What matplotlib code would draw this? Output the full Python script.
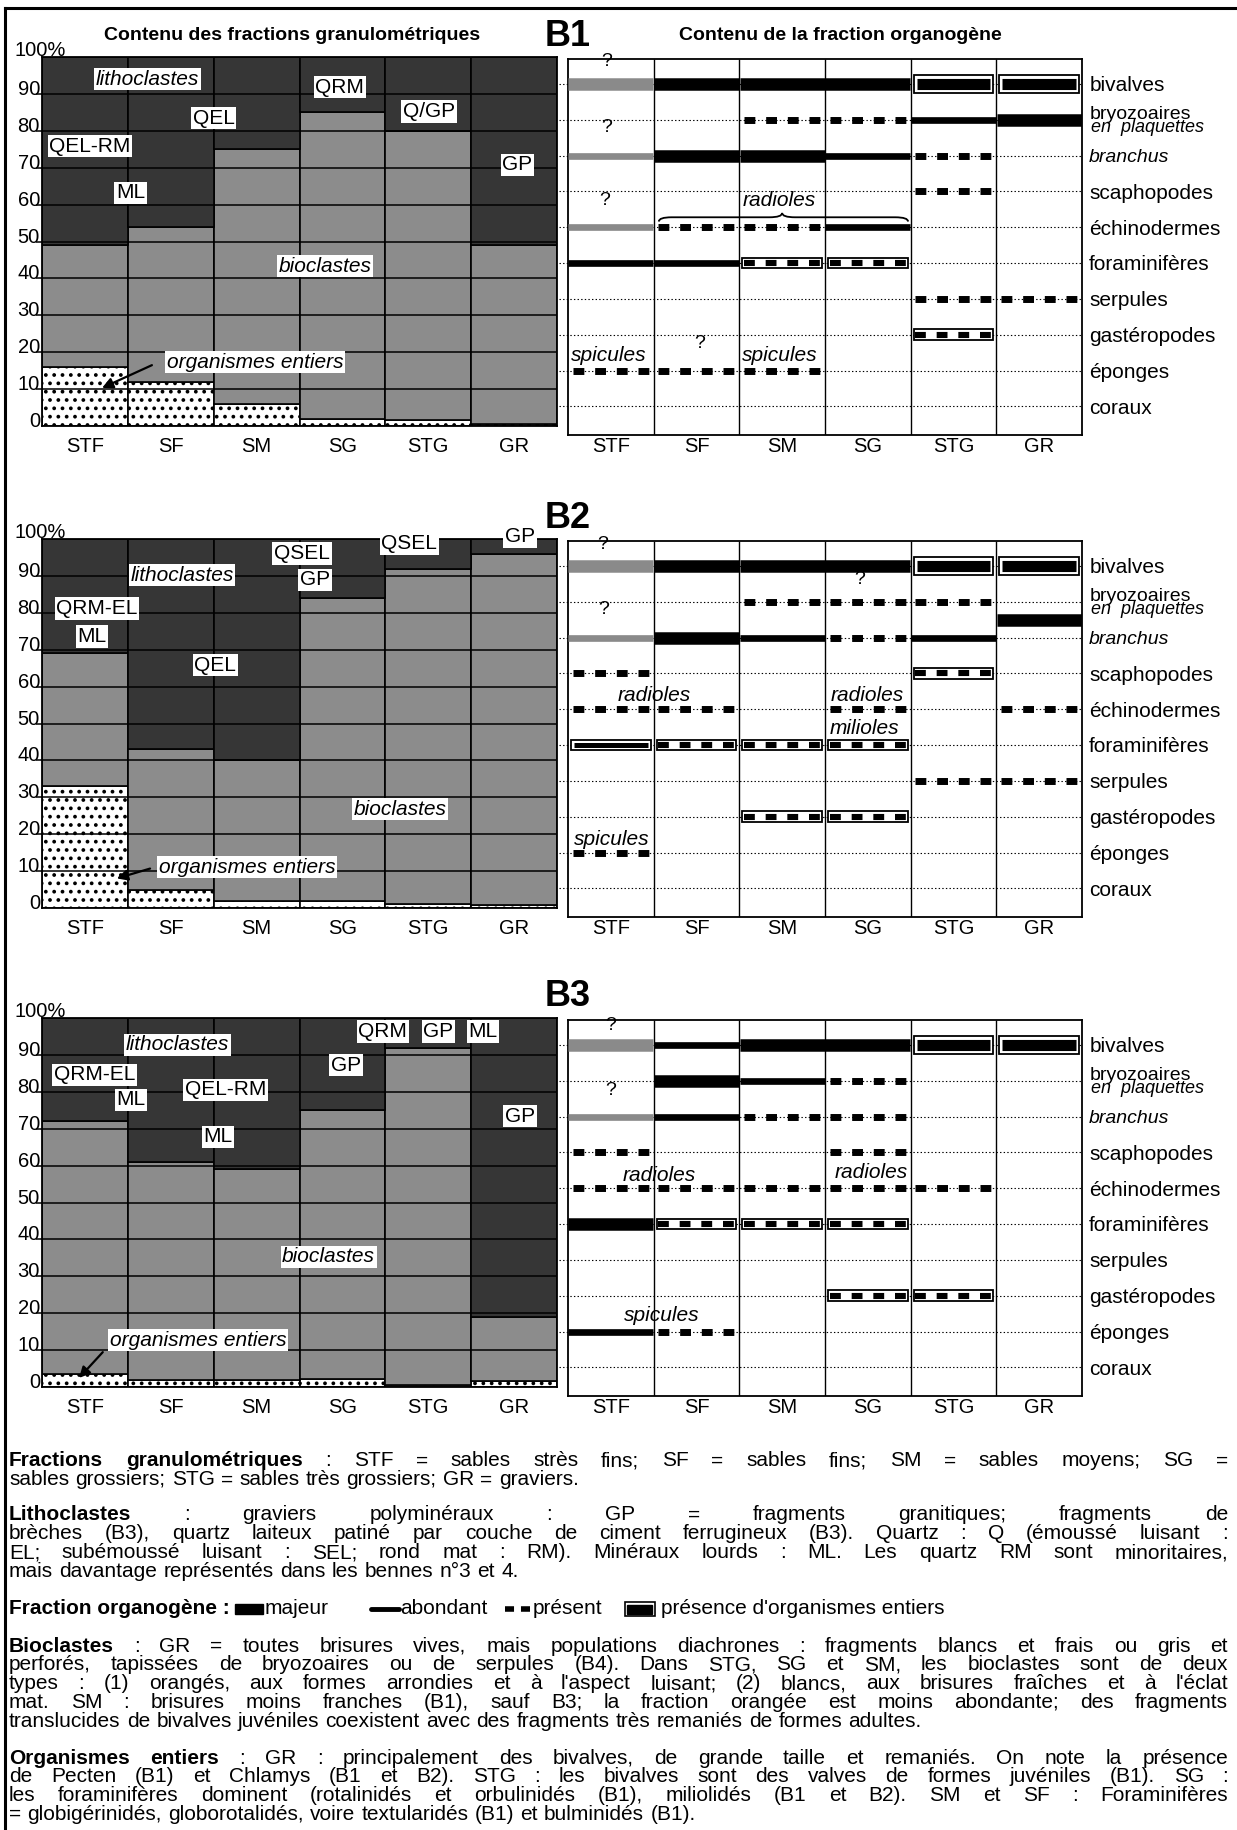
import matplotlib
matplotlib.use("Agg")
import numpy as np
import matplotlib.pyplot as plt
from matplotlib.patches import Rectangle, PathPatch
from matplotlib.path import Path

W, H = 1237, 1830
plt.rcParams["font.family"] = ["Liberation Sans", "DejaVu Sans"]
plt.rcParams["lines.scale_dashes"] = False
plt.rcParams["hatch.linewidth"] = 1.5

# --- data ---------------------------------------------------------------
cats = ["STF", "SF", "SM", "SG", "STG", "GR"]
groups = ["bivalves", "bryozoaires", "branchus", "scaphopodes", "échinodermes",
          "foraminifères", "serpules", "gastéropodes", "éponges", "coraux"]

# % organismes entiers, and cumulated top of bioclastes (lithoclastes fill up to 100 %)
entiers_b1 = [16, 12, 6, 2, 1.5, 0.5]
biocl_b1 = [49, 54, 75, 85, 80, 49]
entiers_b2 = [33, 5, 2, 2, 1, 0.7]
biocl_b2 = [69, 43, 40, 84, 92, 96]
entiers_b3 = [3.5, 2, 2, 2.2, 0.6, 1.5]
biocl_b3 = [72, 61, 59, 75, 92, 19]

# organogenic fraction: M majeur, A abondant, P présent,
# G / g uncertain (grey) majeur / abondant, "+" organismes entiers
org_b1 = [
    ["G", "M", "M", "M", "M+", "M+"],
    ["", "", "P", "P", "A", "M"],
    ["g", "M", "M", "A", "P", ""],
    ["", "", "", "", "P", ""],
    ["g", "P", "P", "A", "", ""],
    ["A", "A", "P+", "P+", "", ""],
    ["", "", "", "", "P", "P"],
    ["", "", "", "", "P+", ""],
    ["P", "P", "P", "", "", ""],
    ["", "", "", "", "", ""],
]
org_b2 = [
    ["G", "M", "M", "M", "M+", "M+"],
    ["", "", "P", "P", "P", "M"],
    ["g", "M", "A", "P", "A", ""],
    ["P", "", "", "", "P+", ""],
    ["P", "P", "", "P", "", "P"],
    ["A+", "P+", "P+", "P+", "", ""],
    ["", "", "", "", "P", "P"],
    ["", "", "P+", "P+", "", ""],
    ["P", "", "", "", "", ""],
    ["", "", "", "", "", ""],
]
org_b3 = [
    ["G", "A", "M", "M", "M+", "M+"],
    ["", "M", "A", "P", "", ""],
    ["g", "A", "P", "P", "", ""],
    ["P", "", "", "P", "", ""],
    ["P", "P", "P", "P", "P", ""],
    ["M", "P+", "P+", "P+", "", ""],
    ["", "", "", "", "", ""],
    ["", "", "", "P+", "P+", ""],
    ["A", "P", "", "", "", ""],
    ["", "", "", "", "", ""],
]

# label annotations (text, x, y, italic)
labels_b1 = [("lithoclastes", 1.23, 94, True), ("QEL-RM", 0.56, 75.8, False),
             ("ML", 1.03, 63.2, False), ("QEL", 2.0, 83.4, False),
             ("QRM", 3.47, 91.8, False), ("Q/GP", 4.51, 85.2, False),
             ("GP", 5.54, 70.8, False), ("bioclastes", 3.3, 43.3, True),
             ("organismes entiers", 2.48, 17.3, True)]
labels_b2 = [("lithoclastes", 1.63, 90.2, True), ("QRM-EL", 0.64, 81.2, False),
             ("ML", 0.58, 73.6, False), ("QEL", 2.02, 65.8, False),
             ("QSEL", 3.03, 96.1, False), ("GP", 3.18, 88.9, False),
             ("QSEL", 4.28, 98.8, False), ("GP", 5.57, 100.6, False),
             ("bioclastes", 4.17, 26.8, True), ("organismes entiers", 2.39, 11.1, True)]
labels_b3 = [("lithoclastes", 1.58, 92.7, True), ("QRM-EL", 0.61, 84.6, False),
             ("ML", 1.04, 77.8, False), ("QEL-RM", 2.14, 80.5, False),
             ("ML", 2.05, 67.8, False), ("GP", 3.54, 87.2, False),
             ("QRM", 3.97, 96.3, False), ("GP", 4.62, 96.3, False),
             ("ML", 5.14, 96.3, False), ("GP", 5.57, 73.4, False),
             ("bioclastes", 3.34, 35.3, True), ("organismes entiers", 1.82, 12.7, True)]
arrow_b1 = ((1.31, 16.8), (0.67, 10))
arrow_b2 = ((1.29, 10.9), (0.84, 7.8))
arrow_b3 = ((0.73, 10), (0.41, 1.9))

notes_b1 = [("?", 0.45, -0.62, False), ("?", 0.45, 1.2, False), ("?", 0.43, 3.26, False),
            ("radioles", 2.47, 3.26, True), ("spicules", 0.48, 7.57, True),
            ("?", 1.54, 7.25, False), ("spicules", 2.47, 7.57, True)]
notes_b2 = [("?", 0.4, -0.6, False), ("?", 3.41, 0.38, False), ("?", 0.42, 1.22, False),
            ("radioles", 1.01, 3.61, True), ("radioles", 3.49, 3.61, True),
            ("milioles", 3.46, 4.55, True), ("spicules", 0.51, 7.63, True)]
notes_b3 = [("?", 0.5, -0.56, False), ("?", 0.5, 1.26, False),
            ("radioles", 1.06, 3.64, True), ("radioles", 3.54, 3.55, True),
            ("spicules", 1.09, 7.56, True)]

para_fractions = [
    [("Fractions granulométriques", True),
     (": STF = sables strès fins; SF = sables fins; SM = sables moyens; SG =", False)],
    [("sables grossiers; STG = sables très grossiers; GR = graviers.", False)],
]
para_litho = [
    [("Lithoclastes", True),
     (": graviers polyminéraux : GP = fragments granitiques; fragments de", False)],
    [("brèches (B3), quartz laiteux patiné par couche de ciment ferrugineux (B3). Quartz : Q (émoussé luisant :", False)],
    [("EL; subémoussé luisant : SEL; rond mat : RM). Minéraux lourds : ML. Les quartz RM sont minoritaires,", False)],
    [("mais davantage représentés dans les bennes n°3 et 4.", False)],
]
para_bio = [
    [("Bioclastes", True),
     (": GR = toutes brisures vives, mais populations diachrones : fragments blancs et frais ou gris et", False)],
    [("perforés, tapissées de bryozoaires ou de serpules (B4). Dans STG, SG et SM, les bioclastes sont de deux", False)],
    [("types : (1) orangés, aux formes arrondies et à l'aspect luisant; (2) blancs, aux brisures fraîches et à l'éclat", False)],
    [("mat. SM : brisures moins franches (B1), sauf B3; la fraction orangée est moins abondante; des fragments", False)],
    [("translucides de bivalves juvéniles coexistent avec des fragments très remaniés de formes adultes.", False)],
]
para_org = [
    [("Organismes entiers", True),
     (": GR : principalement des bivalves, de grande taille et remaniés. On note la présence", False)],
    [("de Pecten (B1) et Chlamys (B1 et B2). STG : les bivalves sont des valves de formes juvéniles (B1). SG :", False)],
    [("les foraminifères dominent (rotalinidés et orbulinidés (B1), miliolidés (B1 et B2). SM et SF : Foraminifères", False)],
    [("= globigérinidés, globorotalidés, voire textularidés (B1) et bulminidés (B1).", False)],
]

BIO = "#8c8c8c"
LITHO = "#363636"
UNSURE = "#8a8a8a"
TXT = 15


def px_rect(x0, y0, x1, y1):
    return [x0 / W, 1 - y1 / H, (x1 - x0) / W, (y1 - y0) / H]


fig = plt.figure(figsize=(W / 100, H / 100), dpi=100)
ov = fig.add_axes([0, 0, 1, 1])
ov.set_xlim(0, W)
ov.set_ylim(H, 0)
ov.axis("off")
renderer = fig.canvas.get_renderer()

# frame of the plate
ov.plot([5, 5], [8, H], color="black", lw=2.2)
ov.plot([5, W], [8, 8], color="black", lw=2.2)


def left_panel(top, entiers, biocl, labels, arrow):
    ax = fig.add_axes(px_rect(42, top, 557, top + 369))
    x = np.arange(len(cats))
    ent = np.array(entiers, dtype=float)
    bio = np.array(biocl, dtype=float)
    ax.bar(x, ent, width=1, align="edge", color="white", edgecolor="black",
           hatch="..", lw=1.2)
    ax.bar(x, bio - ent, bottom=ent, width=1, align="edge", color=BIO,
           edgecolor="black", lw=1.2)
    ax.bar(x, 100 - bio, bottom=bio, width=1, align="edge", color=LITHO,
           edgecolor="black", lw=1.2)
    ax.set_xlim(0, 6)
    ax.set_ylim(0, 100)
    ax.set_xticks([])
    ax.set_yticks([])
    for s in ax.spines.values():
        s.set_linewidth(1.3)
    ax.hlines(np.arange(10, 100, 10), -0.07, 6, color="black", lw=1.1,
              zorder=3, clip_on=False)
    tr = ax.get_yaxis_transform()
    for v in range(0, 100, 10):
        ax.text(-0.004, v + 1.2, str(v), transform=tr, ha="right", va="center",
                fontsize=14.5)
    ax.text(-0.053, 101.8, "100%", transform=tr, ha="left", va="center", fontsize=14.5)
    for i, c in enumerate(cats):
        ax.text(i + 0.5, -0.055, c, transform=ax.get_xaxis_transform(),
                ha="center", va="center", fontsize=14.5)
    for txt, lx, ly, it in labels:
        ax.text(lx, ly, txt, ha="center", va="center", fontsize=15,
                style="italic" if it else "normal", zorder=6, clip_on=False,
                bbox=dict(facecolor="white", edgecolor="none", pad=1.2))
    (x0, y0), (x1, y1) = arrow
    ax.annotate("", xy=(x1, y1), xytext=(x0, y0), zorder=7,
                arrowprops=dict(arrowstyle="-|>", color="black", lw=1.6,
                                mutation_scale=16))
    return ax


def draw_mark(ax, code, c, r):
    entire = code.endswith("+")
    kind = code.rstrip("+")
    x0, x1 = c + 0.005, c + 0.995
    if entire:
        h = 0.5 if kind == "M" else 0.3
        ax.add_patch(Rectangle((c + 0.035, r - h / 2), 0.93, h, facecolor="white",
                               edgecolor="black", lw=1.3, zorder=4))
        x0, x1 = c + 0.07, c + 0.93
    if kind in ("M", "G"):
        ax.plot([x0, x1], [r, r], lw=8 if entire else 9,
                color="black" if kind == "M" else UNSURE,
                solid_capstyle="butt", zorder=5)
    elif kind in ("A", "g"):
        ax.plot([x0, x1], [r, r], lw=3.6 if entire else 4.8,
                color="black" if kind == "A" else UNSURE,
                solid_capstyle="butt", zorder=5)
    elif kind == "P":
        ax.plot([c + 0.055, c + 0.95], [r, r], lw=4.4 if entire else 5,
                color="black", dashes=(7.8, 7.8), dash_capstyle="butt", zorder=5)


def brace(ax, x0, x1, xm, y, d):
    verts = [(x0, y + d), (x0, y), (x0 + 0.15, y),
             (xm - 0.15, y), (xm, y), (xm, y - d),
             (xm, y), (xm + 0.15, y),
             (x1 - 0.15, y), (x1, y), (x1, y + d)]
    codes = [Path.MOVETO, Path.CURVE3, Path.CURVE3,
             Path.LINETO, Path.CURVE3, Path.CURVE3,
             Path.CURVE3, Path.CURVE3,
             Path.LINETO, Path.CURVE3, Path.CURVE3]
    ax.add_patch(PathPatch(Path(verts, codes), facecolor="none",
                           edgecolor="black", lw=1.3, zorder=6))


def right_panel(top, org, notes, shifted=None, brace_args=None):
    shifted = shifted or {}
    ax = fig.add_axes(px_rect(568, top + 2, 1082, top + 378))
    ax.set_xlim(0, 6)
    ax.set_ylim(9.8, -0.7)
    ax.set_xticks([])
    ax.set_yticks([])
    for s in ax.spines.values():
        s.set_linewidth(1.3)
    ax.vlines(np.arange(1, 6), -0.7, 9.8, color="black", lw=1.0)
    ax.hlines(np.arange(len(groups)), -0.1, 6, color="black", lw=0.8,
              linestyles=[(0, (1.0, 1.6))], clip_on=False, zorder=1)
    for r, row in enumerate(org):
        for c, code in enumerate(row):
            if code:
                draw_mark(ax, code, c, r + shifted.get((r, c), 0))
    tr = ax.get_yaxis_transform()
    for r, g in enumerate(groups):
        if g == "bryozoaires":
            ax.text(1.014, r - 0.16, g, transform=tr, ha="left", va="center", fontsize=14)
            ax.text(1.018, r + 0.22, "en  plaquettes", transform=tr, ha="left",
                    va="center", fontsize=13, style="italic")
        else:
            ax.text(1.014, r + 0.05, g, transform=tr, ha="left", va="center",
                    fontsize=15 if g != "branchus" else 14,
                    style="italic" if g == "branchus" else "normal")
    for i, c in enumerate(cats):
        ax.text(i + 0.5, -0.03, c, transform=ax.get_xaxis_transform(),
                ha="center", va="center", fontsize=14.5)
    for txt, nx, ny, it in notes:
        ax.text(nx, ny, txt, ha="center", va="center", fontsize=15 if it else 14,
                style="italic" if it else "normal", zorder=6, clip_on=False)
    if brace_args:
        brace(ax, *brace_args)
    return ax


tops = [57, 539, 1018]
left_panel(tops[0], entiers_b1, biocl_b1, labels_b1, arrow_b1)
left_panel(tops[1], entiers_b2, biocl_b2, labels_b2, arrow_b2)
left_panel(tops[2], entiers_b3, biocl_b3, labels_b3, arrow_b3)
right_panel(tops[0], org_b1, notes_b1, brace_args=(1.06, 3.97, 2.5, 3.72, 0.12))
right_panel(tops[1], org_b2, notes_b2, shifted={(1, 5): 0.5})
right_panel(tops[2], org_b3, notes_b3)

for name, t in zip(["B1", "B2", "B3"], tops):
    ov.text(568, t - 21, name, fontsize=26, fontweight="bold", ha="center", va="center")
ov.text(292, 35, "Contenu des fractions granulométriques", fontsize=14,
        fontweight="bold", ha="center", va="center")
ov.text(840, 35, "Contenu de la fraction organogène", fontsize=14,
        fontweight="bold", ha="center", va="center")


# --- notes below the plates -------------------------------------------
def text_line(y, segments, justify=True, x0=9, x1=1228, size=TXT):
    words = [(w, b) for seg, b in segments for w in seg.split()]
    objs = [ov.text(0, y, w, fontsize=size, va="center", ha="left",
                    fontweight="bold" if b else "normal") for w, b in words]
    widths = [o.get_window_extent(renderer).width for o in objs]
    space = size * 100 / 72 * 0.3
    gap = (x1 - x0 - sum(widths)) / (len(objs) - 1) if justify else space
    gap = max(gap, space * 0.5)
    x = x0
    for o, w in zip(objs, widths):
        o.set_x(x)
        x += w + gap


def paragraph(y, lines, step=18.8):
    for i, segs in enumerate(lines):
        text_line(y + i * step, segs, justify=i < len(lines) - 1)


paragraph(1461, para_fractions)
paragraph(1515, para_litho)
paragraph(1646, para_bio)
paragraph(1758, para_org)

# legend of the organogenic fraction
y = 1609
x = 9
t = ov.text(x, y, "Fraction organogène :", fontsize=TXT, fontweight="bold", va="center")
x += t.get_window_extent(renderer).width + 5
ov.add_patch(Rectangle((x, y - 5), 28, 10, color="black"))
x += 30
t = ov.text(x, y, "majeur", fontsize=TXT, va="center")
x += t.get_window_extent(renderer).width + 42
ov.plot([x, x + 28], [y, y], color="black", lw=3.5, solid_capstyle="round")
x += 29
t = ov.text(x, y, "abondant", fontsize=TXT, va="center")
x += t.get_window_extent(renderer).width + 18
ov.plot([x, x + 26], [y, y], color="black", lw=4, dashes=(6.5, 5), dash_capstyle="butt")
x += 28
t = ov.text(x, y, "présent", fontsize=TXT, va="center")
x += t.get_window_extent(renderer).width + 22
ov.add_patch(Rectangle((x, y - 7), 30, 14, facecolor="white", edgecolor="black", lw=1.2))
ov.add_patch(Rectangle((x + 2.5, y - 4.5), 25, 9, color="black"))
x += 36
ov.text(x, y, "présence d'organismes entiers", fontsize=TXT, va="center")

fig.savefig("out.png", dpi=100)
